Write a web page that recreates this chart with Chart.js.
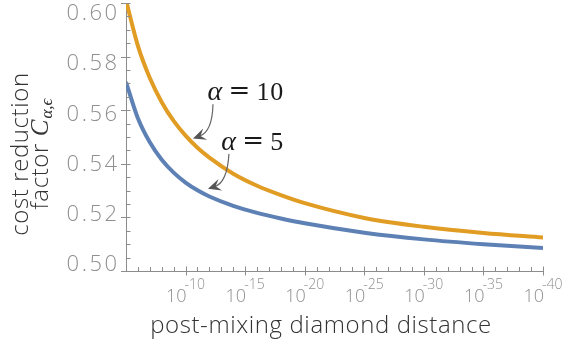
<!DOCTYPE html>
<html><head><meta charset="utf-8">
<script src="https://cdn.jsdelivr.net/npm/chart.js@4.4.0/dist/chart.umd.min.js"></script>
<style>html,body{margin:0;padding:0;background:#fff;}#wrap{width:570px;height:349px;}</style>
</head><body><div id="wrap"><canvas id="c" width="570" height="349"></canvas></div>
<script>
// x = exponent k of distance 10^-k
const exponents = [5, 6, 7, 8, 9, 10, 11, 12, 14, 16, 18, 20, 25, 30, 35, 40];
const alpha10 = [0.601, 0.584, 0.572, 0.5630, 0.5560, 0.5505, 0.5460, 0.5423, 0.5363, 0.5318, 0.5283, 0.5253, 0.5198, 0.5165, 0.5142, 0.5125];
const alpha5  = [0.5705, 0.5570, 0.5480, 0.5415, 0.5367, 0.5330, 0.5301, 0.5278, 0.5243, 0.5217, 0.5196, 0.5178, 0.5143, 0.5118, 0.5100, 0.5086];
const xTickExponents = [10, 15, 20, 25, 30, 35, 40];
const yTickValues = [0.50, 0.52, 0.54, 0.56, 0.58, 0.60];
const seriesNames = ['α = 10', 'α = 5'];
const xTitle = 'post-mixing diamond distance';
const yTitleLine1 = 'cost reduction';
const yTitleLine2 = 'factor ';

const ORANGE = '#E19C24', BLUE = '#5E81B5';
const AXIS = '#8c8c8c', TICKTXT = '#8f8f8f', TITLE = '#333333';
const SANS = '"Open Sans", "DejaVu Sans", sans-serif';
const SERIF = '"Liberation Serif", "DejaVu Serif", serif';
const SERIF2 = '"DejaVu Serif", serif';

// annotation anchors in data coordinates: [x exponent, value]
const annot = [
  {parts: ['α', '=', '10'], at: [11.85, 0.5637], from: [12.30, 0.5622], ctrl: [12.25, 0.5520], to: [10.62, 0.5494]},
  {parts: ['α', '=', '5'],  at: [13.00, 0.5450], from: [13.64, 0.5437], ctrl: [13.50, 0.5330], to: [11.88, 0.5307]}
];

function setLS(ctx, v) { try { ctx.letterSpacing = v; } catch (e) {} }

const deco = {
  id: 'deco',
  afterDraw(chart) {
    const ctx = chart.ctx, xs = chart.scales.x, ys = chart.scales.y;
    const ca = chart.chartArea;
    ctx.save();
    // ticks
    ctx.strokeStyle = AXIS; ctx.lineWidth = 1;
    ctx.beginPath();
    for (let k = 6; k <= 40; k++) {
      const px = Math.round(xs.getPixelForValue(k)) + 0.5;
      if (xTickExponents.includes(k)) { ctx.moveTo(px, ca.bottom - 4.5); ctx.lineTo(px, ca.bottom + 4.5); }
      else { ctx.moveTo(px, ca.bottom); ctx.lineTo(px, ca.bottom - 4); }
    }
    for (let i = 0; i <= 20; i++) {
      const v = 0.5 + i * 0.005;
      const py = Math.round(ys.getPixelForValue(v)) + 0.5;
      if (i % 4 === 0) { ctx.moveTo(ca.left - 5, py); ctx.lineTo(ca.left + 4.5, py); }
      else { ctx.moveTo(ca.left, py); ctx.lineTo(ca.left + 4.5, py); }
    }
    ctx.stroke();
    // y tick labels
    ctx.fillStyle = TICKTXT;
    ctx.font = '300 22px ' + SANS;
    ctx.textAlign = 'right'; ctx.textBaseline = 'middle';
    setLS(ctx, '2.5px');
    yTickValues.forEach(v => {
      const py = ys.getPixelForValue(v);
      ctx.fillText(v.toFixed(2), ca.left - 6.5, ca.top + 11 + 0.937 * (py - ca.top));
    });
    setLS(ctx, '0px');
    // x tick labels 10^-k
    ctx.textBaseline = 'alphabetic';
    xTickExponents.forEach(k => {
      const px = xs.getPixelForValue(k);
      ctx.font = '300 18px ' + SANS; ctx.textAlign = 'right';
      ctx.fillText('10', px + 1, ca.bottom + 31);
      ctx.font = '300 14px ' + SANS; ctx.textAlign = 'left';
      ctx.fillText('-' + k, px - 1, ca.bottom + 17.5);
    });
    // x title
    ctx.fillStyle = TITLE;
    ctx.font = '300 24px ' + SANS; ctx.textAlign = 'center';
    setLS(ctx, '0.6px');
    ctx.fillText(xTitle, 321, 333);
    // y title
    ctx.save();
    ctx.translate(0, 154); ctx.rotate(-Math.PI / 2);
    ctx.font = '300 24px ' + SANS; ctx.textAlign = 'center';
    ctx.fillText(yTitleLine1, 0, 28);
    setLS(ctx, '0px');
    const f1 = '300 24px ' + SANS, f2 = 'italic 25px ' + SERIF, f3 = 'italic 17px ' + SERIF;
    ctx.font = f1; setLS(ctx, '0.6px'); const w1 = ctx.measureText(yTitleLine2).width;
    setLS(ctx, '0px');
    ctx.font = f2; const w2 = ctx.measureText('C').width;
    ctx.font = f3; const w3 = ctx.measureText('α,ϵ').width;
    let sx = -(w1 + w2 + w3 + 1) / 2;
    ctx.textAlign = 'left';
    ctx.font = f1; setLS(ctx, '0.6px'); ctx.fillText(yTitleLine2, sx, 47.5); sx += w1; setLS(ctx, '0px');
    ctx.font = f2; ctx.fillText('C', sx, 47.5); sx += w2 + 1;
    ctx.font = f3; ctx.fillText('α,ϵ', sx, 51.5);
    ctx.restore();
    // annotations
    annot.forEach(a => {
      const ax = xs.getPixelForValue(a.at[0]), ay = ys.getPixelForValue(a.at[1]);
      ctx.fillStyle = '#1a1a1a'; ctx.textAlign = 'left';
      ctx.font = 'italic 28px ' + SERIF; ctx.fillText(a.parts[0], ax, ay);
      ctx.font = '26px ' + SERIF2; ctx.fillText(a.parts[1], ax + 21, ay - 1);
      ctx.font = '26px ' + SERIF; ctx.fillText(a.parts[2], ax + 49, ay);
      const p0 = [xs.getPixelForValue(a.from[0]), ys.getPixelForValue(a.from[1])];
      const pc = [xs.getPixelForValue(a.ctrl[0]), ys.getPixelForValue(a.ctrl[1])];
      const p1 = [xs.getPixelForValue(a.to[0]), ys.getPixelForValue(a.to[1])];
      ctx.strokeStyle = '#666'; ctx.lineWidth = 1.2;
      ctx.beginPath(); ctx.moveTo(p0[0], p0[1]);
      const ang = Math.atan2(p1[1] - pc[1], p1[0] - pc[0]);
      const endx = p1[0] - Math.cos(ang) * 7, endy = p1[1] - Math.sin(ang) * 7;
      ctx.quadraticCurveTo(pc[0], pc[1], endx, endy); ctx.stroke();
      ctx.fillStyle = '#555';
      const c = Math.cos(ang), s = Math.sin(ang);
      ctx.beginPath();
      ctx.moveTo(p1[0], p1[1]);
      ctx.lineTo(p1[0] - c * 13 + s * 6, p1[1] - s * 13 - c * 6);
      ctx.lineTo(p1[0] - c * 8, p1[1] - s * 8);
      ctx.lineTo(p1[0] - c * 13 - s * 6, p1[1] - s * 13 + c * 6);
      ctx.closePath(); ctx.fill();
    });
    ctx.restore();
  }
};

new Chart(document.getElementById('c'), {
  type: 'line',
  data: {
    datasets: [
      {label: seriesNames[0], data: exponents.map((x, i) => ({x, y: alpha10[i]})), borderColor: ORANGE},
      {label: seriesNames[1], data: exponents.map((x, i) => ({x, y: alpha5[i]})), borderColor: BLUE}
    ]
  },
  options: {
    responsive: false, animation: false, devicePixelRatio: 1,
    layout: {padding: {top: 3, right: 27, left: 0, bottom: 0}},
    plugins: {legend: {display: false}, tooltip: {enabled: false}},
    elements: {point: {radius: 0}, line: {borderWidth: 4, cubicInterpolationMode: 'monotone', fill: false}},
    scales: {
      x: {type: 'linear', min: 5, max: 40,
          afterBuildTicks: s => { s.ticks = xTickExponents.map(v => ({value: v})); },
          ticks: {display: false}, grid: {display: false, drawTicks: false},
          border: {display: true, color: AXIS, width: 1},
          afterFit: s => { s.height = 78; }},
      y: {type: 'linear', min: 0.5, max: 0.6,
          afterBuildTicks: s => { s.ticks = yTickValues.map(v => ({value: v})); },
          ticks: {display: false}, grid: {display: false, drawTicks: false},
          border: {display: true, color: AXIS, width: 1},
          afterFit: s => { s.width = 126; }}
    }
  },
  plugins: [deco]
});
</script></body></html>
